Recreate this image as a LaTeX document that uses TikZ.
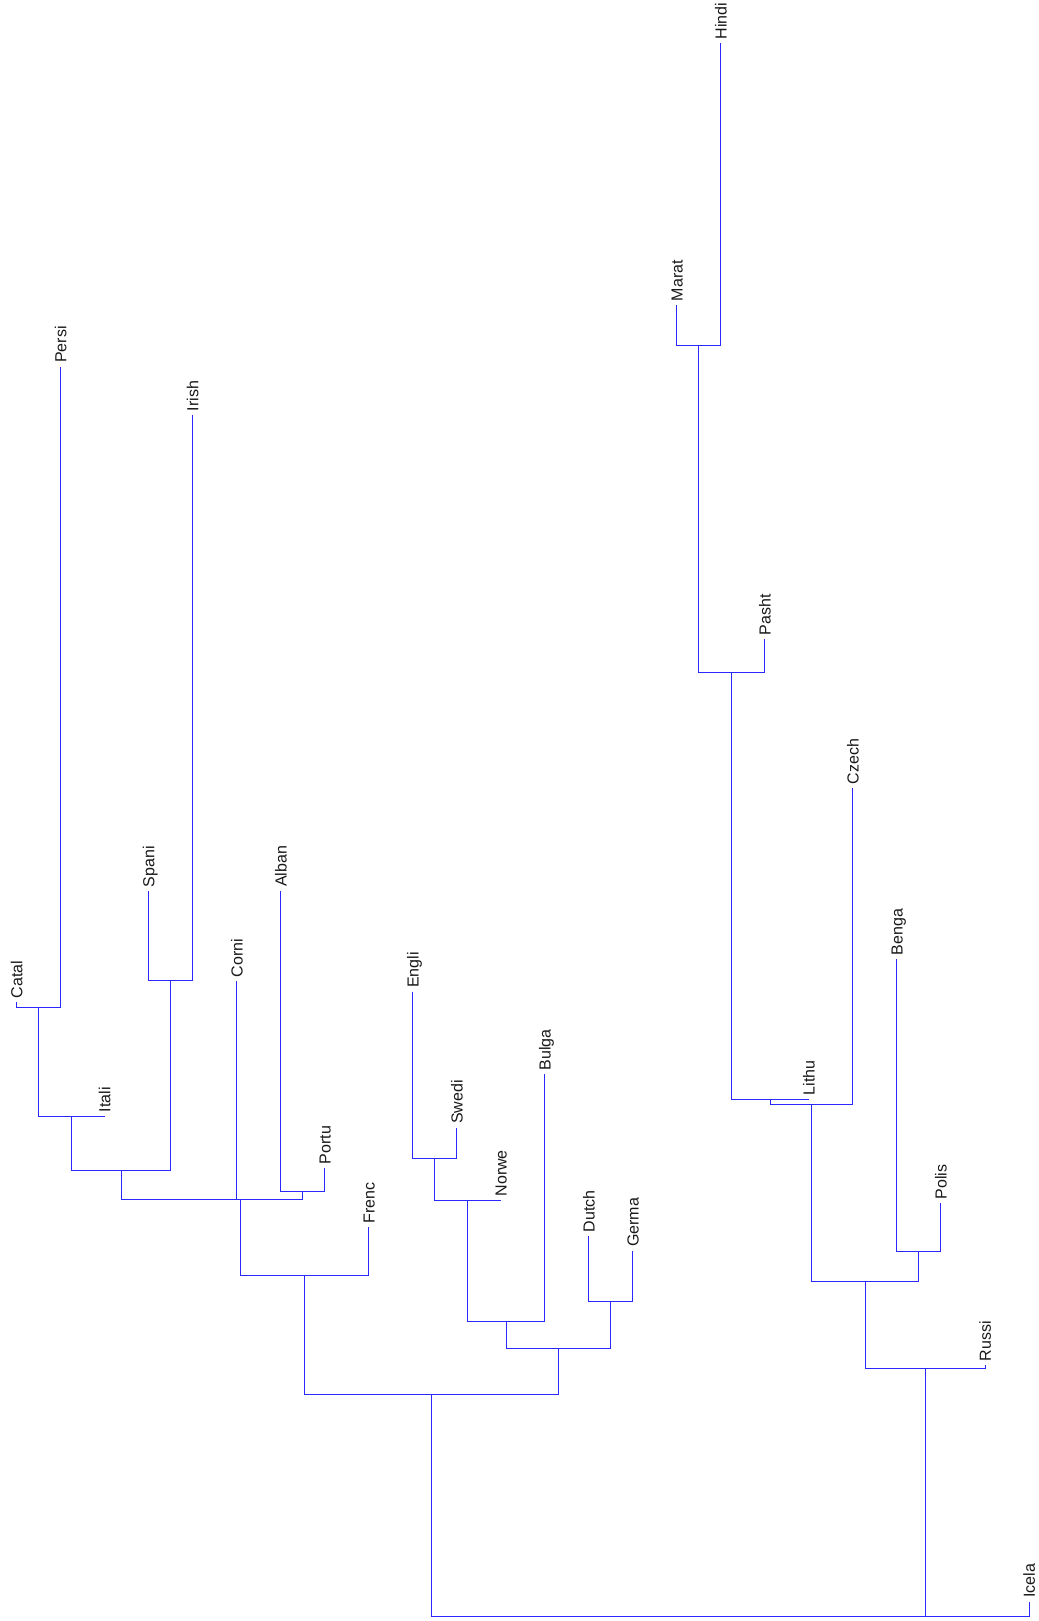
\documentclass[tikz,border=0pt]{standalone}
\usepackage{fontspec}
\setmainfont{Liberation Sans}
\begin{document}
\begin{tikzpicture}[x=1pt,y=-1pt,
  link/.style={draw={rgb,255:red,40;green,40;blue,255}, line width=1pt},
  leaflab/.style={rotate=90, anchor=west, inner sep=0pt, text=black!90,
    font=\fontsize{16}{19}\selectfont, text height=11.5pt, text depth=0pt}]
\useasboundingbox (0,0) rectangle (1038,1621);
\fill[white] (0,0) rectangle (1038,1621);
% leaves (top of each leaf line)
\coordinate (Catal) at (16.7,1002);
\coordinate (Persi) at (60.7,366.7);
\coordinate (Itali) at (104.7,1116);
\coordinate (Spani) at (148.7,891);
\coordinate (Irish) at (192.7,415);
\coordinate (Corni) at (236.75,981);
\coordinate (Alban) at (280.8,890.7);
\coordinate (Portu) at (324.8,1168);
\coordinate (Frenc) at (368.8,1227);
\coordinate (Engli) at (412.8,991.7);
\coordinate (Swedi) at (456.8,1127.7);
\coordinate (Norwe) at (500.8,1200.3);
\coordinate (Bulga) at (544.8,1074.3);
\coordinate (Dutch) at (588.8,1236);
\coordinate (Germa) at (632.8,1250.7);
\coordinate (Marat) at (676.9,305);
\coordinate (Hindi) at (720.9,43.3);
\coordinate (Pasht) at (764.9,639.3);
\coordinate (Lithu) at (808.9,1099);
\coordinate (Czech) at (852.9,788);
\coordinate (Benga) at (896.9,959);
\coordinate (Polis) at (940.9,1203.3);
\coordinate (Russi) at (985.0,1365);
\coordinate (Icela) at (1029.0,1601.7);
% labels
\foreach \n in {Catal,Persi,Itali,Spani,Irish,Corni,Alban,Portu,Frenc,Engli,Swedi,Norwe,Bulga,Dutch,Germa,Marat,Hindi,Pasht,Lithu,Czech,Benga,Polis,Russi,Icela}
  \node[leaflab] (l\n) at ([yshift=3.7pt]\n) {\n};
% internal nodes
\coordinate (A) at (38.7,1007);
\coordinate (B) at (71.7,1116);
\coordinate (C) at (170.7,980.7);
\coordinate (D) at (121.2,1170);
\coordinate (E) at (179.0,1199.3);
\coordinate (F) at (302.8,1191.7);
\coordinate (G) at (240.9,1199.3);
\coordinate (H) at (304.85,1275);
\coordinate (I) at (434.8,1158.7);
\coordinate (J) at (467.8,1200.3);
\coordinate (K) at (506.3,1321);
\coordinate (L) at (610.8,1301);
\coordinate (M) at (558.55,1348.3);
\coordinate (N) at (431.7,1394);
\coordinate (O) at (698.9,345.3);
\coordinate (P) at (731.9,672.3);
\coordinate (Q) at (770.4,1099);
\coordinate (R) at (811.65,1104.3);
\coordinate (S) at (918.9,1251);
\coordinate (T) at (865.3,1281.7);
\coordinate (U) at (925.15,1368);
\coordinate (V) at (977.1,1616);
\coordinate (root) at (704.4,1616);
% links
\draw[link] (Catal) |- (A) -| (Persi);
\draw[link] (A) |- (B) -| (Itali);
\draw[link] (Spani) |- (C) -| (Irish);
\draw[link] (B) |- (D) -| (C);
\draw[link] (D) |- (E) -| (Corni);
\draw[link] (Alban) |- (F) -| (Portu);
\draw[link] (E) |- (G) -| (F);
\draw[link] (G) |- (H) -| (Frenc);
\draw[link] (Engli) |- (I) -| (Swedi);
\draw[link] (I) |- (J) -| (Norwe);
\draw[link] (J) |- (K) -| (Bulga);
\draw[link] (Dutch) |- (L) -| (Germa);
\draw[link] (K) |- (M) -| (L);
\draw[link] (H) |- (N) -| (M);
\draw[link] (Marat) |- (O) -| (Hindi);
\draw[link] (O) |- (P) -| (Pasht);
\draw[link] (P) |- (Q) -| (Lithu);
\draw[link] (Q) |- (R) -| (Czech);
\draw[link] (Benga) |- (S) -| (Polis);
\draw[link] (R) |- (T) -| (S);
\draw[link] (T) |- (U) -| (Russi);
\draw[link] (U) |- (V) -| (Icela);
\draw[link] (N) |- (root) -| (V);
\end{tikzpicture}
\end{document}
